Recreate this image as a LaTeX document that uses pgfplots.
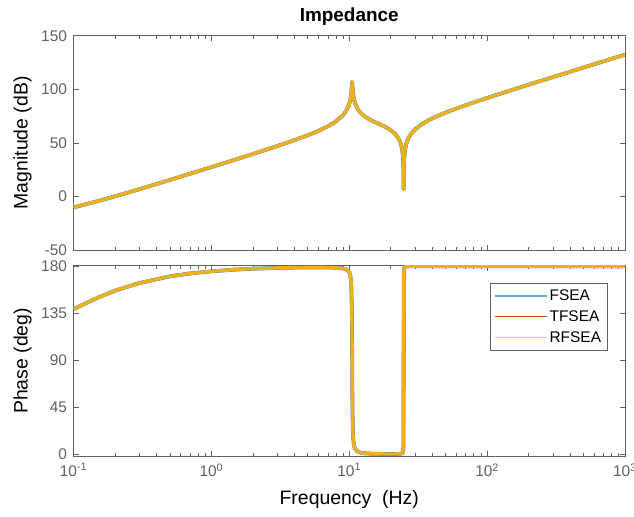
\documentclass[border=0pt]{standalone}
\usepackage{fontspec}
\setmainfont{Liberation Sans}
\usepackage{pgfplots}
\usepackage{pgfplotstable}
\pgfplotsset{compat=1.18}

\definecolor{fseablue}{rgb}{0,0.447,0.741}
\definecolor{tfseared}{rgb}{0.85,0.325,0.098}
\definecolor{rfseayel}{rgb}{0.929,0.694,0.125}
\definecolor{legblue}{RGB}{105,170,220}
\definecolor{legred}{RGB}{200,80,40}
\definecolor{legyel}{RGB}{244,204,100}
\definecolor{axgray}{gray}{0.38}

% Impedance frequency response: frequency (Hz), magnitude (dB), phase (deg)
\pgfplotstableread{
f      mag     ph
0.1    -10.27  138.8
0.15   -4.42   149.7
0.2    0.06    156.4
0.3    6.70    163.7
0.5    15.36   170.1
0.7    21.16   172.9
1      27.36   174.95
1.5    34.46   176.6
2      39.57   177.4
3      46.96   178.2
4      52.48   178.5
5      57.09   178.7
6      61.29   178.7
7      65.45   178.6
8      69.97   178.4
9      75.73   177.7
9.5    79.81   176.8
10     86.31   174.1
10.2   90.87   170.4
10.35  96.71   161.6
10.45  103.88  135.1
10.5   107.0   89.4
10.55  103.90  43.8
10.65  96.95   17.7
10.8   91.39   8.9
11     87.19   5.3
11.5   81.57   2.5
12     78.38   1.6
13     74.49   0.85
14     71.95   0.59
15     70.00   0.44
16     68.32   0.35
17     66.77   0.29
18     65.22   0.25
19     63.59   0.24
20     61.78   0.24
21     59.64   0.24
22     56.92   0.27
23     53.05   0.36
23.5   50.22   0.46
24     46.00   0.69
24.3   41.92   1.06
24.5   37.48   1.73
24.65  31.47   3.38
24.75  22.01   9.96
24.8   6.70    90.0
24.85  22.04   170.3
24.95  31.48   176.8
25.1   37.50   178.4
25.4   43.53   179.25
26     49.57   179.64
27     54.89   179.82
28     58.20   179.85
30     62.56   179.9
33     66.77   179.9
36     69.76   179.9
40     72.82   179.9
45     75.80   179.9
50     78.23   179.9
60     82.10   179.9
70     85.16   179.9
80     87.72   179.9
100    91.87   179.9
150    99.17   179.9
200    104.26  179.9
300    111.36  179.9
500    120.27  179.9
700    126.12  179.9
1000   132.32  179.9
}\imp

% Short straight legend samples
\pgfplotsset{legend image code/.code={\draw[#1] (0bp,0bp) -- (52bp,0bp);}}

\begin{document}
\begin{tikzpicture}
\path[use as bounding box] (0,0) rectangle (634bp,-517bp);

% Magnitude
\begin{axis}[
  scale only axis,
  width=551.5bp, height=214.3bp,
  at={(73.5bp,-35.7bp)}, anchor=north west,
  xmode=log,
  xmin=0.1, xmax=1000,
  xtick={0.1,1,10,100,1000},
  minor xtick={0.2,0.3,0.4,0.5,0.6,0.7,0.8,0.9,2,3,4,5,6,7,8,9,20,30,40,50,60,70,80,90,200,300,400,500,600,700,800,900},
  xticklabels={},
  ymin=-50, ymax=150,
  ytick={-50,0,50,100,150},
  yticklabels={-50,0,50,100,150},
  minor y tick num=0,
  tick pos=both,
  tick align=inside,
  major tick length=5.5bp,
  minor tick length=3.2bp,
  axis line style={axgray, line width=0.6bp},
  every tick/.append style={axgray, line width=0.6bp},
  ticklabel style={font=\fontsize{15.5}{18}\selectfont, text=axgray},
  yticklabel style={xshift=-3bp},
  ylabel={Magnitude (dB)},
  ylabel style={at={(axis description cs:-0.0925,0.5)}, rotate=0, anchor=center,
    font=\fontsize{19.5}{23}\selectfont},
  title={Impedance},
  title style={font=\bfseries\fontsize{19}{22}\selectfont,
    at={(axis description cs:0.5,1)}, anchor=center, yshift=13bp},
]
\addplot[fseablue, line width=3.8bp, opacity=0.9, line join=round]  table[x=f, y=mag] {\imp};
\addplot[tfseared, line width=0.9bp, line join=round] table[x=f, y=mag] {\imp};
\addplot[rfseayel, line width=3.4bp, line join=round] table[x=f, y=mag] {\imp};
\end{axis}

% Phase
\begin{axis}[
  scale only axis,
  width=551.5bp, height=190.3bp,
  at={(73.5bp,-265.7bp)}, anchor=north west,
  xmode=log,
  xmin=0.1, xmax=1000,
  xtick={0.1,1,10,100,1000},
  minor xtick={0.2,0.3,0.4,0.5,0.6,0.7,0.8,0.9,2,3,4,5,6,7,8,9,20,30,40,50,60,70,80,90,200,300,400,500,600,700,800,900},
  xticklabels={10\textsuperscript{-1},10\textsuperscript{0},10\textsuperscript{1},10\textsuperscript{2},10\textsuperscript{3}},
  xticklabel style={yshift=-4bp},
  ymin=-1.7, ymax=180.3,
  ytick={0,45,90,135,180},
  yticklabels={0,45,90,135,180},
  minor y tick num=0,
  tick pos=both,
  tick align=inside,
  major tick length=5.5bp,
  minor tick length=3.2bp,
  axis line style={axgray, line width=0.6bp},
  every tick/.append style={axgray, line width=0.6bp},
  ticklabel style={font=\fontsize{15.5}{18}\selectfont, text=axgray},
  yticklabel style={xshift=-3bp},
  xlabel={Frequency\ \ (Hz)},
  xlabel style={at={(axis description cs:0.5,0)}, anchor=center, yshift=-43.5bp,
    font=\fontsize{19.5}{23}\selectfont},
  ylabel={Phase (deg)},
  ylabel style={at={(axis description cs:-0.0925,0.5)}, rotate=0, anchor=center,
    font=\fontsize{19.5}{23}\selectfont},
  legend style={at={(axis description cs:0.968,0.911)}, anchor=north east,
    draw=axgray, line width=0.6bp, fill=white,
    font=\fontsize{15.5}{18}\selectfont, text=black,
    row sep=4.5bp, inner xsep=4bp, inner ysep=5bp},
  legend cell align=left,
]
\addplot[fseablue, line width=3.8bp, opacity=0.9, line join=round,
  legend image post style={draw=legblue, line width=1.4bp, opacity=1}]
  table[x=f, y=ph] {\imp};
\addplot[tfseared, line width=0.9bp, line join=round,
  legend image post style={draw=legred, line width=1.2bp}]
  table[x=f, y=ph] {\imp};
\addplot[rfseayel, line width=3.4bp, line join=round,
  legend image post style={draw=legyel, line width=1.6bp}]
  table[x=f, y=ph] {\imp};
\legend{FSEA,TFSEA,RFSEA}
\end{axis}
\end{tikzpicture}
\end{document}
